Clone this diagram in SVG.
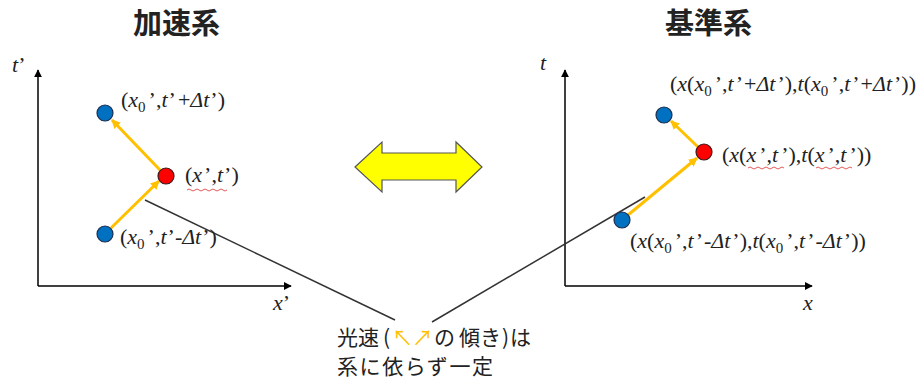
<svg xmlns="http://www.w3.org/2000/svg" width="916" height="383" viewBox="0 0 916 383">
<defs>
<marker id="ax" viewBox="0 0 10 10" refX="9" refY="5" markerWidth="8" markerHeight="8" markerUnits="userSpaceOnUse" orient="auto"><path d="M0,0 L10,5 L0,10 Z" fill="#000"/></marker>
<marker id="ya" viewBox="0 0 10 10" refX="9" refY="5" markerWidth="9" markerHeight="9" markerUnits="userSpaceOnUse" orient="auto"><path d="M0,0 L10,5 L0,10 Z" fill="#FFC000"/></marker>
</defs>
<style>
.title{font-family:"Noto Sans CJK JP","Noto Sans",sans-serif;font-weight:bold;font-size:29px;fill:#222}
.jp{font-family:"Noto Sans CJK JP","Noto Sans",sans-serif;font-size:21px;fill:#222}
.lbl{font-family:"Liberation Serif",serif;font-size:22px;fill:#222}
.i{font-style:italic}
.sub{font-size:15px}
.axis{stroke:#000;stroke-width:1.5;fill:none;marker-end:url(#ax)}
.yarrow{stroke:#FFC000;stroke-width:3;fill:none;marker-end:url(#ya)}
.line{stroke:#333;stroke-width:1.5;fill:none}
.blue{fill:#0070C0;stroke:#1f2f4f;stroke-width:1.2}
.red{fill:#FF0000;stroke:#3a1a1a;stroke-width:1.2}
.squig{stroke:#e03030;stroke-width:0.8;fill:none}
</style>

<g id="title-left"><text class="title" x="133" y="34">加速系</text></g>
<g id="title-right"><text class="title" x="665" y="34">基準系</text></g>

<g id="axes-left">
<line class="axis" x1="38" y1="286" x2="38" y2="70"/>
<line class="axis" x1="38" y1="286" x2="291" y2="286"/>
<text class="lbl i" x="12" y="72" font-size="20">t<tspan font-style="normal">’</tspan></text>
<text class="lbl i" x="273" y="310" font-size="20">x<tspan font-style="normal">’</tspan></text>
</g>
<g id="axes-right">
<line class="axis" x1="565" y1="286" x2="565" y2="70"/>
<line class="axis" x1="565" y1="286" x2="812" y2="286"/>
<text class="lbl i" x="540" y="70" font-size="20">t</text>
<text class="lbl i" x="803" y="310" font-size="20">x</text>
</g>

<g id="connectors">
<line class="line" x1="145" y1="200" x2="395" y2="320"/>
<line class="line" x1="432" y1="322" x2="645" y2="197"/>
<line class="yarrow" x1="111" y1="228" x2="159" y2="181"/>
<line class="yarrow" x1="160" y1="170" x2="112" y2="120"/>
<line class="yarrow" x1="628" y1="215" x2="697" y2="158"/>
<line class="yarrow" x1="698" y1="147" x2="671" y2="121"/>
</g>

<g id="double-arrow">
<path d="M355,167 L382,142 L382,153 L456,153 L456,142 L482,167 L456,192 L456,180 L382,180 L382,192 Z" fill="#FFFF00" stroke="#555" stroke-width="1.2"/>
</g>

<g id="node-left-top"><circle class="blue" cx="105" cy="113" r="8"/>
<text class="lbl" x="121" y="107">(<tspan class="i">x</tspan><tspan class="sub" dy="5">0</tspan><tspan dx="3" dy="-5">’</tspan>,<tspan class="i">t</tspan><tspan dx="1">’</tspan><tspan dx="2">+</tspan><tspan class="i">Δt</tspan><tspan dx="1">’</tspan>)</text></g>
<g id="node-left-mid"><circle class="red" cx="166" cy="176" r="8"/>
<text class="lbl" x="185" y="182">(<tspan class="i">x</tspan><tspan dx="2">’</tspan>,<tspan class="i">t</tspan><tspan dx="1">’</tspan>)</text>
<path class="squig" d="M187,190 q2,-2 4,0 t4,0 t4,0 t4,0 t4,0 t4,0 t4,0 t4,0 t4,0 t4,0"/></g>
<g id="node-left-bottom"><circle class="blue" cx="105" cy="234" r="8"/>
<text class="lbl" x="120" y="244">(<tspan class="i">x</tspan><tspan class="sub" dy="5">0</tspan><tspan dx="3" dy="-5">’</tspan>,<tspan class="i">t</tspan><tspan dx="1">’</tspan>-<tspan class="i">Δt</tspan><tspan dx="1">’</tspan>)</text></g>

<g id="node-right-top"><circle class="blue" cx="664" cy="115" r="8"/>
<text class="lbl" x="670" y="91">(<tspan class="i">x</tspan>(<tspan class="i">x</tspan><tspan class="sub" dy="5">0</tspan><tspan dx="3" dy="-5">’</tspan>,<tspan class="i">t</tspan><tspan dx="2">’</tspan><tspan dx="1">+</tspan><tspan class="i">Δt</tspan><tspan dx="2">’</tspan>),<tspan class="i">t</tspan>(<tspan class="i">x</tspan><tspan class="sub" dy="5">0</tspan><tspan dx="3" dy="-5">’</tspan>,<tspan class="i">t</tspan><tspan dx="2">’</tspan><tspan dx="1">+</tspan><tspan class="i">Δt</tspan><tspan dx="2">’</tspan>))</text></g>
<g id="node-right-mid"><circle class="red" cx="704" cy="152" r="8"/>
<text class="lbl" x="722" y="162">(<tspan class="i">x</tspan>(<tspan class="i">x</tspan><tspan dx="3">’</tspan>,<tspan class="i">t</tspan><tspan dx="3">’</tspan>),<tspan class="i">t</tspan>(<tspan class="i">x</tspan><tspan dx="3">’</tspan>,<tspan class="i">t</tspan><tspan dx="3">’</tspan>))</text>
<path class="squig" d="M748,168 q2,-2 4,0 t4,0 t4,0 t4,0 t4,0 t4,0 t4,0 t4,0 t4,0"/>
<path class="squig" d="M816,168 q2,-2 4,0 t4,0 t4,0 t4,0 t4,0 t4,0 t4,0 t4,0 t4,0"/></g>
<g id="node-right-bottom"><circle class="blue" cx="622" cy="220" r="8"/>
<text class="lbl" x="630" y="248">(<tspan class="i">x</tspan>(<tspan class="i">x</tspan><tspan class="sub" dy="5">0</tspan><tspan dx="3" dy="-5">’</tspan>,<tspan class="i">t</tspan><tspan dx="2">’</tspan><tspan dx="1">-</tspan><tspan class="i">Δt</tspan><tspan dx="2">’</tspan>),<tspan class="i">t</tspan>(<tspan class="i">x</tspan><tspan class="sub" dy="5">0</tspan><tspan dx="3" dy="-5">’</tspan>,<tspan class="i">t</tspan><tspan dx="2">’</tspan><tspan dx="1">-</tspan><tspan class="i">Δt</tspan><tspan dx="2">’</tspan>))</text></g>

<g id="note">
<text class="jp" y="345"><tspan x="337">光速</tspan><tspan x="383">(</tspan><tspan x="392" fill="#FFC000">↖</tspan><tspan x="412" fill="#FFC000">↗</tspan><tspan x="434">の</tspan><tspan x="459">傾き</tspan><tspan x="502">)</tspan><tspan x="510">は</tspan></text>
<text class="jp" x="337" y="374" textLength="156">系に依らず一定</text>
</g>
</svg>
